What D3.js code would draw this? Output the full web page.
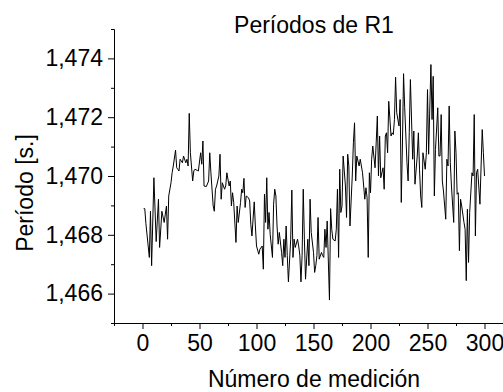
<!DOCTYPE html>
<html>
<head>
<meta charset="utf-8">
<script src="https://cdn.jsdelivr.net/npm/d3@7"></script>
<style>
	body { margin: 0; background: #fff; }
	svg { display: block; overflow: hidden; }
	text { font-family: "Liberation Sans", Arial, sans-serif; fill: #000; }
</style>
</head>
<body>
<svg width="503" height="392"></svg>
<script>
// Número de medición
const medicion = [
	1, 2, 3, 6, 7, 8, 10, 12, 14, 15, 17, 19, 21, 22, 23, 25, 26, 27, 29, 30,
	31, 32, 33, 35, 36, 38, 39, 40, 41, 42, 44, 45, 46, 48, 49, 51, 52, 53, 54, 56,
	58, 59, 60, 62, 63, 64, 65, 67, 68, 69, 70, 72, 73, 74, 76, 77, 78, 79, 80, 82,
	83, 84, 86, 87, 88, 89, 90, 91, 93, 94, 95, 96, 98, 99, 100, 102, 103, 105, 106, 107,
	108, 109, 110, 111, 112, 114, 115, 116, 117, 118, 119, 120, 122, 123, 124, 125, 126, 127, 128, 130,
	131, 132, 133, 134, 136, 137, 138, 139, 140, 141, 142, 143, 145, 146, 147, 148, 150, 151, 152, 153,
	154, 155, 157, 158, 159, 160, 161, 162, 164, 165, 166, 167, 169, 170, 171, 172, 173, 174, 175, 176,
	178, 179, 180, 181, 182, 184, 185, 186, 187, 188, 190, 191, 192, 193, 195, 196, 197, 198, 199, 200,
	201, 202, 204, 205, 206, 207, 208, 209, 211, 212, 213, 214, 215, 216, 218, 219, 220, 221, 222, 223,
	225, 226, 227, 228, 229, 230, 232, 233, 234, 235, 237, 238, 239, 241, 242, 243, 244, 245, 246, 248,
	249, 250, 251, 253, 254, 255, 256, 257, 259, 260, 261, 262, 263, 264, 266, 267, 268, 269, 270, 271,
	273, 274, 275, 276, 277, 278, 279, 280, 282, 283, 284, 285, 286, 287, 289, 290, 291, 292, 293, 294,
	296, 297, 298, 299, 300
]

// Período [s.]
const periodo = [
	1.46889, 1.46889, 1.46838, 1.46723, 1.46880, 1.46695, 1.46994, 1.46777, 1.46921, 1.46757,
	1.46880, 1.46842, 1.46898, 1.46785, 1.46932, 1.46977, 1.47011, 1.47034, 1.47088, 1.47028,
	1.47023, 1.47017, 1.47057, 1.47045, 1.47068, 1.47045, 1.47057, 1.47034, 1.47213, 1.47079,
	1.46983, 1.47017, 1.47023, 1.47019, 1.47017, 1.47079, 1.47040, 1.47119, 1.46966, 1.46964,
	1.46983, 1.47079, 1.47011, 1.46898, 1.46880, 1.46955, 1.46966, 1.47000, 1.47074, 1.46921,
	1.46977, 1.46955, 1.46966, 1.47011, 1.46966, 1.46983, 1.46898, 1.46943, 1.46910, 1.46774,
	1.46898, 1.46842, 1.46910, 1.46955, 1.46943, 1.46992, 1.46893, 1.46932, 1.46926, 1.46915,
	1.46836, 1.46796, 1.46912, 1.46830, 1.46762, 1.46734, 1.46751, 1.46762, 1.46683, 1.46938,
	1.46842, 1.46994, 1.46819, 1.46876, 1.46802, 1.46723, 1.46904, 1.46955, 1.46932, 1.46830,
	1.46768, 1.46808, 1.46740, 1.46695, 1.46785, 1.46723, 1.46830, 1.46729, 1.46640, 1.46785,
	1.46952, 1.46723, 1.46785, 1.46757, 1.46785, 1.46762, 1.46731, 1.46640, 1.46729, 1.46955,
	1.46785, 1.46649, 1.46785, 1.46695, 1.46921, 1.46808, 1.46740, 1.46672, 1.46695, 1.46729,
	1.46859, 1.46717, 1.46740, 1.46729, 1.46723, 1.46819, 1.46757, 1.46847, 1.46578, 1.46889,
	1.46819, 1.46785, 1.46779, 1.46819, 1.46955, 1.46723, 1.47023, 1.46876, 1.46898, 1.47068,
	1.46966, 1.46859, 1.47074, 1.47034, 1.46830, 1.47000, 1.47113, 1.47181, 1.46983, 1.47068,
	1.47034, 1.47057, 1.47034, 1.47011, 1.46921, 1.46960, 1.46926, 1.46723, 1.47011, 1.46943,
	1.47057, 1.47102, 1.47028, 1.47113, 1.47204, 1.47000, 1.47136, 1.46994, 1.47028, 1.46955,
	1.47136, 1.47147, 1.47079, 1.47254, 1.47136, 1.47147, 1.47141, 1.47192, 1.47336, 1.47215,
	1.47170, 1.47260, 1.46910, 1.47102, 1.47348, 1.47232, 1.47045, 1.46983, 1.47147, 1.47328,
	1.47057, 1.47153, 1.46972, 1.47068, 1.47147, 1.47023, 1.46932, 1.46893, 1.47079, 1.47023,
	1.47079, 1.47294, 1.47074, 1.47379, 1.47192, 1.47339, 1.46932, 1.47090, 1.47232, 1.47068,
	1.47068, 1.47209, 1.46983, 1.46949, 1.46853, 1.47057, 1.47034, 1.47238, 1.47045, 1.46966,
	1.46842, 1.47153, 1.47079, 1.46938, 1.46943, 1.46746, 1.46921, 1.46898, 1.46842, 1.46819,
	1.46644, 1.46887, 1.46706, 1.46876, 1.47011, 1.47000, 1.47209, 1.46796, 1.47011, 1.47023,
	1.46904, 1.47034, 1.47158, 1.47079, 1.47000
]

const xTicks = [0, 50, 100, 150, 200, 250, 300]
const xMinor = [-25, 25, 75, 125, 175, 225, 275, 325]
const yTicks = [1.466, 1.468, 1.470, 1.472, 1.474]
const yMinor = [1.465, 1.467, 1.469, 1.471, 1.473, 1.475]

const titulo = 'Períodos de R1'
const xTitulo = 'Número de medición'
const yTitulo = 'Período [s.]'

const svg = d3.select('svg')

const x = d3.scaleLinear().domain([-25, 325]).range([114, 513])
const y = d3.scaleLinear().domain([1.465, 1.475]).range([323, 29])

// comma as decimal separator
const es = d3.formatLocale({ decimal: ',', thousands: '.', grouping: [3], currency: ['', ''] })
const fmt = es.format('.3f')

// minor ticks
svg.append('g')
	.attr('transform', 'translate(0,323)')
	.call(d3.axisBottom(x).tickValues(xMinor).tickSize(3).tickSizeOuter(0).tickFormat(''))
svg.append('g')
	.attr('transform', 'translate(114,0)')
	.call(d3.axisLeft(y).tickValues(yMinor).tickSize(3).tickSizeOuter(0).tickFormat(''))

// major axes
const xAxis = svg.append('g')
	.attr('transform', 'translate(0,323)')
	.call(d3.axisBottom(x).tickValues(xTicks).tickSize(6).tickSizeOuter(0).tickPadding(6))
const yAxis = svg.append('g')
	.attr('transform', 'translate(114,0)')
	.call(d3.axisLeft(y).tickValues(yTicks).tickSize(6).tickSizeOuter(0).tickPadding(5).tickFormat(fmt))

svg.selectAll('.domain, .tick line').attr('stroke', '#000').attr('stroke-width', 1)
xAxis.selectAll('text').style('font-size', '23px').style('font-family', '"Liberation Sans", Arial, sans-serif')
yAxis.selectAll('text').style('font-size', '23px').style('font-family', '"Liberation Sans", Arial, sans-serif')

// line
const line = d3.line()
	.x((d, i) => x(medicion[i]))
	.y(d => y(d))

svg.append('path')
	.datum(periodo)
	.attr('fill', 'none')
	.attr('stroke', '#000')
	.attr('stroke-width', 1)
	.attr('stroke-linejoin', 'miter')
	.attr('d', line)

// titles
svg.append('text')
	.attr('x', 314)
	.attr('y', 33)
	.attr('text-anchor', 'middle')
	.style('font-size', '23px')
	.text(titulo)

svg.append('text')
	.attr('x', 314)
	.attr('y', 387)
	.attr('text-anchor', 'middle')
	.style('font-size', '23px')
	.text(xTitulo)

svg.append('text')
	.attr('transform', 'translate(33,193) rotate(-90)')
	.attr('text-anchor', 'middle')
	.style('font-size', '23px')
	.text(yTitulo)
</script>
</body>
</html>
